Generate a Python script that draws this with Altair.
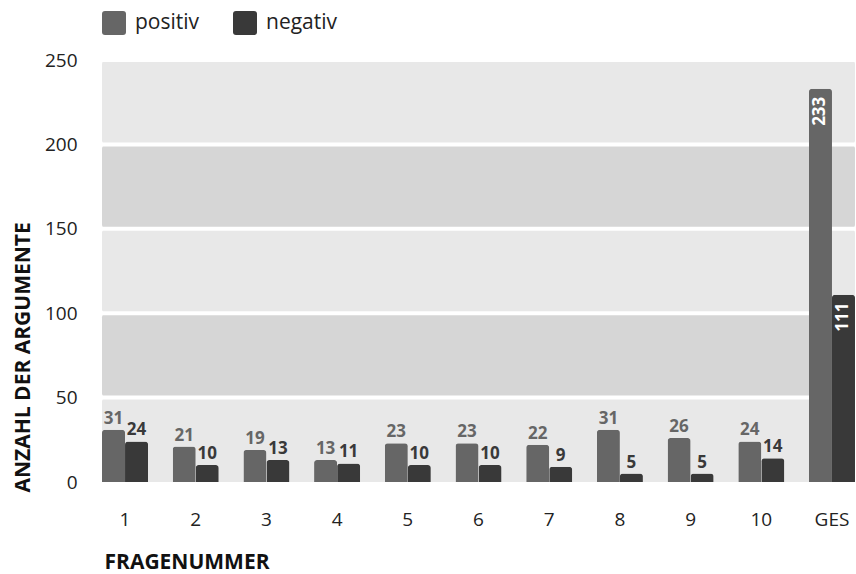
import altair as alt
import pandas as pd

# Arguments per question (positive / negative) and the total column
fragen = ["1", "2", "3", "4", "5", "6", "7", "8", "9", "10", "GES"]
positiv = [31, 21, 19, 13, 23, 23, 22, 31, 26, 24, 233]
negativ = [24, 10, 13, 11, 10, 10, 9, 5, 5, 14, 111]
serien = ["positiv", "negativ"]
farben = ["#666666", "#393939"]

# Background bands (alternating shades) and the white separators between them
band_hell = [0, 100, 200]
band_dunkel = [50, 150]
trenner = [50, 100, 150, 200, 250]

W, H = 753, 422
FONT = "Open Sans"

rows = []
for f, p, n in zip(fragen, positiv, negativ):
    rows.append({"frage": f, "serie": "positiv", "wert": p})
    rows.append({"frage": f, "serie": "negativ", "wert": n})
df = pd.DataFrame(rows)

hell = pd.DataFrame({"lo": band_hell, "hi": [v + 50 for v in band_hell]})
dunkel = pd.DataFrame({"lo": band_dunkel, "hi": [v + 50 for v in band_dunkel]})
linien = pd.DataFrame({"y": trenner})

yscale = alt.Scale(domain=[0, 250], nice=False)

bands_hell = alt.Chart(hell).mark_rect(color="#e8e8e8", cornerRadius=4).encode(
    x=alt.value(0), x2=alt.value(W),
    y=alt.Y("lo:Q", scale=yscale), y2="hi:Q",
)
bands_dunkel = alt.Chart(dunkel).mark_rect(color="#d6d6d6", cornerRadius=4).encode(
    x=alt.value(0), x2=alt.value(W),
    y=alt.Y("lo:Q", scale=yscale), y2="hi:Q",
)
gaps = alt.Chart(linien).mark_rule(color="white", strokeWidth=4).encode(
    x=alt.value(0), x2=alt.value(W),
    y=alt.Y("y:Q", scale=yscale),
)

xenc = alt.X(
    "frage:N", sort=fragen,
    scale=alt.Scale(paddingInner=0.349, paddingOuter=0),
    axis=alt.Axis(
        title="FRAGENUMMER", labelAngle=0, labelFontSize=19, labelColor="#222222",
        labelFont=FONT, labelPadding=28, ticks=False, domain=False,
        titleFont=FONT, titleFontSize=21, titleFontWeight="bold", titleColor="#111111",
        titleX=2, titleY=86, titleAlign="left", titleBaseline="alphabetic", titleAnchor="start",
    ),
)
xoff = alt.XOffset("serie:N", sort=serien, scale=alt.Scale(paddingInner=0, paddingOuter=0))
colorenc = alt.Color(
    "serie:N", sort=serien,
    scale=alt.Scale(domain=serien, range=farben),
    legend=alt.Legend(
        title=None, orient="none", legendX=0, legendY=-49, direction="horizontal",
        symbolType="M -0.75 -1 L 0.75 -1 Q 1 -1 1 -0.75 L 1 0.75 Q 1 1 0.75 1 L -0.75 1 Q -1 1 -1 0.75 L -1 -0.75 Q -1 -1 -0.75 -1 Z",
        symbolSize=576, symbolStrokeWidth=0, symbolOpacity=1,
        labelFont=FONT, labelFontSize=21, labelColor="#222222", labelOffset=9,
        columnPadding=33,
    ),
)

bars = alt.Chart(df).mark_bar(cornerRadiusTopLeft=3, cornerRadiusTopRight=3).encode(
    x=xenc,
    xOffset=xoff,
    y=alt.Y(
        "wert:Q", scale=yscale,
        axis=alt.Axis(
            values=[0, 50, 100, 150, 200, 250], title="ANZAHL DER ARGUMENTE",
            labelFontSize=19, labelColor="#222222", labelFont=FONT, labelPadding=25,
            ticks=False, domain=False, grid=False,
            titleFont=FONT, titleFontSize=21, titleFontWeight="bold", titleColor="#111111",
            titleAngle=270, titleX=-79, titleY=432, titleAlign="left", titleBaseline="middle",
        ),
    ),
    color=colorenc,
)

labels = alt.Chart(df).transform_filter(alt.datum.frage != "GES").mark_text(
    font=FONT, fontSize=17, fontWeight="bold", baseline="alphabetic", dy=-6
).encode(
    x=alt.X("frage:N", sort=fragen),
    xOffset=alt.XOffset("serie:N", sort=serien),
    y=alt.Y("wert:Q", scale=yscale),
    text="wert:Q",
    color=alt.Color("serie:N", sort=serien, legend=None),
)

labels_ges = alt.Chart(df).transform_filter(alt.datum.frage == "GES").mark_text(
    font=FONT, fontSize=17, fontWeight="bold", color="white",
    angle=270, align="right", baseline="middle", dx=-8
).encode(
    x=alt.X("frage:N", sort=fragen),
    xOffset=alt.XOffset("serie:N", sort=serien),
    y=alt.Y("wert:Q", scale=yscale),
    text="wert:Q",
)

chart = alt.layer(bands_hell, bands_dunkel, gaps, bars, labels, labels_ges).properties(
    width=W, height=H,
    autosize=alt.AutoSizeParams(type="none"),
    padding={"left": 102, "top": 60, "right": 1, "bottom": 92},
    background="white",
).configure_view(stroke=None)

chart.save("out.html", embed_options={"renderer": "svg", "actions": False})
